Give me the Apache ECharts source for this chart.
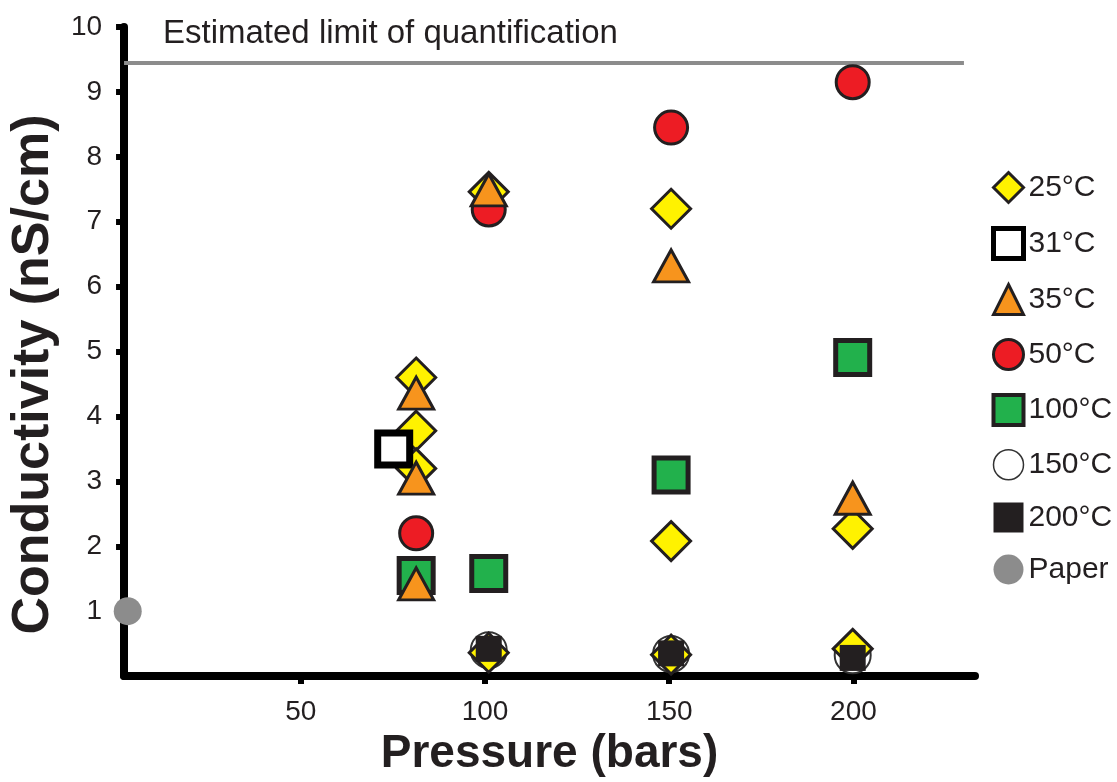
<!DOCTYPE html>
<html>
<head>
<meta charset="utf-8">
<title>Conductivity vs pressure</title>
<script src="https://cdn.jsdelivr.net/npm/echarts@6/dist/echarts.min.js"></script>
<style>
  html, body { margin: 0; padding: 0; background: #fff; }
  #chart { width: 1117px; height: 782px; }
</style>
</head>
<body>
<div id="chart"></div>
<script>
// data: [pressure (bars), conductivity (nS/cm)]
const c25 = [[81.3, 4.6], [81.3, 3.78], [81.3, 3.2], [101, 7.46], [101, 0.36], [150.5, 7.2], [150.5, 2.08], [150.5, 0.33], [199.8, 2.27], [199.8, 0.42]]
const c31 = [[75.2, 3.5]]
const c35 = [[81.3, 4.36], [81.3, 3.05], [81.3, 1.42], [101, 7.49], [150.5, 6.32], [199.8, 2.74]]
const c50 = [[81.3, 2.2], [101, 7.19], [150.5, 8.45], [199.8, 9.15]]
const c100 = [[81.3, 1.55], [101, 1.58], [150.5, 3.1], [199.8, 4.91]]
const c150 = [[101, 0.4], [150.5, 0.34], [199.8, 0.32]]
const c200 = [[101, 0.42], [150.5, 0.35], [199.8, 0.28]]
const paper = [[3, 1.0]]

const xTicks = [50, 100, 150, 200]
const yTicks = [1, 2, 3, 4, 5, 6, 7, 8, 9, 10]
const limitValue = 9.45
const limitRange = [2, 230]

const dark = '#231f20'
const font = '"Liberation Sans", Arial, Helvetica, sans-serif'

const chart = echarts.init(document.getElementById('chart'))

const option = {
  animation: false,
  backgroundColor: '#fff',
  textStyle: { fontFamily: font, color: dark },
  title: {
    text: 'Estimated limit of quantification',
    left: 158,
    top: 12,
    textStyle: { fontSize: 33, fontWeight: 'normal', color: dark, fontFamily: font }
  },
  grid: { left: 120, right: 142, top: 27, bottom: 105 },
  legend: {
    orient: 'vertical',
    left: 986,
    top: 166,
    itemWidth: 30,
    itemHeight: 30,
    itemGap: 22,
    textStyle: { fontSize: 30, color: dark, fontFamily: font },
    data: [
      { name: '25°C', itemStyle: { borderWidth: 3 } },
      { name: '31°C', itemStyle: { borderWidth: 5 } },
      { name: '35°C', itemStyle: { borderWidth: 3 } },
      { name: '50°C', itemStyle: { borderWidth: 3 } },
      { name: '100°C', itemStyle: { borderWidth: 4 } },
      { name: '150°C', itemStyle: { borderWidth: 1.5 } },
      { name: '200°C', itemStyle: { borderWidth: 0 } },
      { name: 'Paper', itemStyle: { borderWidth: 0 } }
    ]
  },
  xAxis: {
    type: 'value',
    min: 2,
    max: 233,
    name: 'Pressure (bars)',
    nameLocation: 'middle',
    nameGap: 52,
    nameTextStyle: { fontSize: 46, fontWeight: 'bold', color: dark, fontFamily: font },
    axisLine: { onZero: false, lineStyle: { color: '#000', width: 8 } },
    axisTick: { customValues: xTicks, length: 8, lineStyle: { color: '#000', width: 6 } },
    axisLabel: { customValues: xTicks, fontSize: 28, color: dark, margin: 22 },
    splitLine: { show: false }
  },
  yAxis: {
    type: 'value',
    min: 0,
    max: 10,
    name: 'Conductivity (nS/cm)',
    nameLocation: 'middle',
    nameGap: 62,
    nameTextStyle: { fontSize: 52, fontWeight: 'bold', color: dark, fontFamily: font, padding: [0, 46, 0, 0] },
    axisLine: { onZero: false, lineStyle: { color: '#000', width: 8 } },
    axisTick: { customValues: yTicks, length: 8, lineStyle: { color: '#000', width: 6 } },
    axisLabel: { customValues: yTicks, fontSize: 28, color: dark, margin: 22 },
    splitLine: { show: false }
  },
  series: [
    {
      name: '25°C', type: 'scatter', z: 3, data: c25,
      symbol: 'diamond', symbolSize: 39,
      itemStyle: { color: '#fff200', borderColor: dark, borderWidth: 3, opacity: 1 }
    },
    {
      name: '31°C', type: 'scatter', z: 4, data: c31,
      symbol: 'rect', symbolSize: 32,
      itemStyle: { color: '#fff', borderColor: '#000', borderWidth: 7, opacity: 1 }
    },
    {
      name: '35°C', type: 'scatter', z: 7, data: c35,
      symbol: 'triangle', symbolSize: [35, 32],
      itemStyle: { color: '#f7941d', borderColor: dark, borderWidth: 3, opacity: 1 }
    },
    {
      name: '50°C', type: 'scatter', z: 6, data: c50,
      symbol: 'circle', symbolSize: 33,
      itemStyle: { color: '#ed1c24', borderColor: dark, borderWidth: 3, opacity: 1 }
    },
    {
      name: '100°C', type: 'scatter', z: 5, data: c100,
      symbol: 'rect', symbolSize: 34,
      itemStyle: { color: '#22b14c', borderColor: dark, borderWidth: 5, opacity: 1 }
    },
    {
      name: '150°C', type: 'scatter', z: 2, data: c150,
      symbol: 'circle', symbolSize: 36,
      itemStyle: { color: '#fff', borderColor: '#333', borderWidth: 2, opacity: 1 },
      // limit of quantification line
      markLine: {
        silent: true,
        symbol: ['none', 'none'],
        label: { show: false },
        lineStyle: { color: '#8c8c8c', width: 4, type: 'solid' },
        data: [[{ coord: [limitRange[0], limitValue] }, { coord: [limitRange[1], limitValue] }]]
      }
    },
    {
      name: '200°C', type: 'scatter', z: 8, data: c200,
      symbol: 'rect', symbolSize: 26,
      itemStyle: { color: dark, opacity: 1 }
    },
    {
      name: 'Paper', type: 'scatter', z: 9, data: paper,
      symbol: 'circle', symbolSize: 28,
      itemStyle: { color: '#8c8c8c', opacity: 1 }
    }
  ]
}

chart.setOption(option)
</script>
</body>
</html>
